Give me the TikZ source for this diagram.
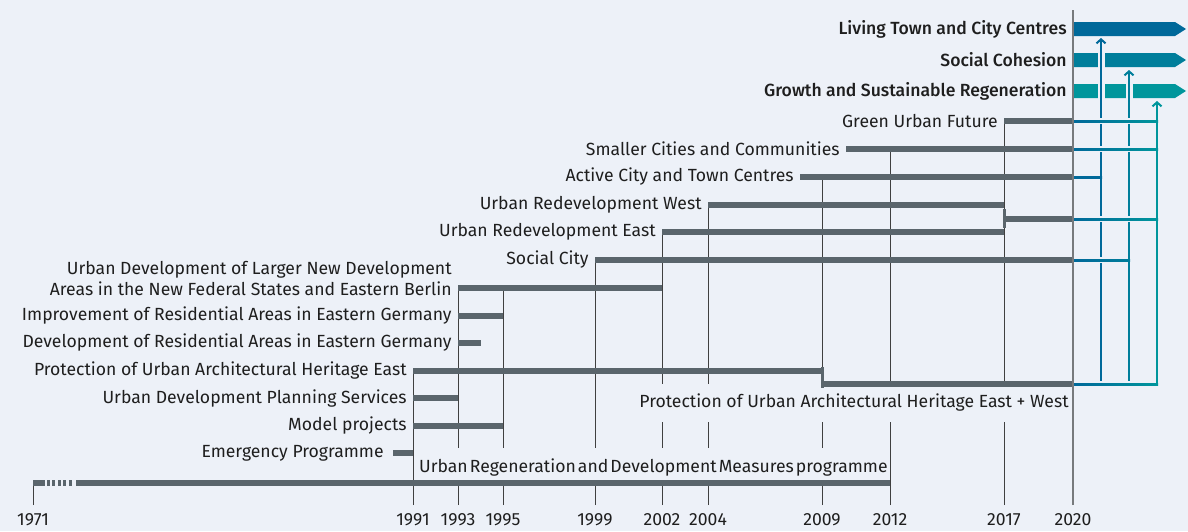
\documentclass[tikz,border=0pt]{standalone}
\usepackage{fontspec}
\setmainfont{Fira Sans}
\newfontfamily\progfont{Fira Sans Medium}
\usetikzlibrary{arrows.meta}

\definecolor{bg}{HTML}{EDF1F8}
\definecolor{bargray}{HTML}{5A656C}
\definecolor{txt}{HTML}{1E1E1E}
\definecolor{axisgray}{HTML}{777A7D}
\definecolor{livblue}{HTML}{00699A}
\definecolor{socblue}{HTML}{007E9B}
\definecolor{growteal}{HTML}{00969C}

\tikzset{
  lbl/.style={anchor=east, inner sep=3pt, text=txt, font=\fontsize{8.8}{10.5}\selectfont},
  year/.style={text=txt, inner sep=1pt, font=\fontsize{8.8}{10.5}\selectfont},
  prog/.style={lbl, font=\fontsize{8.8}{10.5}\selectfont\progfont},
  bar/.style={bargray, line width=3pt},
  joint/.style={bargray, line width=1.5pt},
  yearline/.style={line width=0.5pt, black!75},
  halo/.style={bg, line width=3.5pt},
  link/.style={line width=1pt}
}

\begin{document}
\begin{tikzpicture}[x=0.5pt,y=-0.5pt]
\fill[bg] (0,0) rectangle (1188,531);
\useasboundingbox (0,0) rectangle (1188,531);

% time axis
\foreach \yr/\px in {1971/33,1991/413,1993/458,1995/503,1999/595,2002/662,
                     2004/708,2009/822,2012/890,2017/1004,2020/1073}{
  \coordinate (y\yr) at (\px,505);
  \node[year] at (\px,520) {\yr};
}
\coordinate (y1994) at (481,505);
\coordinate (y2008) at (800,505);
\coordinate (y2010) at (846,505);

\foreach \yr/\top in {1971/483,1991/371,1993/288,1995/288,1999/260,2002/232,
                      2004/205,2009/177,2012/149,2017/121}
  \draw[yearline] (y\yr) -- (y\yr |- 0,\top);

% programme names
\node[lbl] (green) at (1004,121) {Green Urban Future};
\node[lbl] (smaller) at (846,149) {Smaller Cities and Communities};
\node[lbl] (active) at (800,177) {Active City and Town Centres};
\node[lbl] (west) at (708,205) {Urban Redevelopment West};
\node[lbl] (east) at (662,232) {Urban Redevelopment East};
\node[lbl] (social) at (595,260) {Social City};
\node[lbl, align=right] (larger) at (458,278) {Urban Development of Larger New Development\\Areas in the New Federal States and Eastern Berlin};
\coordinate (largerbar) at (458,288);
\node[lbl] (improve) at (458,316) {Improvement of Residential Areas in Eastern Germany};
\node[lbl] (devres) at (458,343) {Development of Residential Areas in Eastern Germany};
\node[lbl] (protect) at (413,371) {Protection of Urban Architectural Heritage East};
\node[lbl] (planning) at (413,398) {Urban Development Planning Services};
\node[lbl] (model) at (413,426) {Model projects};
\node[lbl] (emergency) at (390,453) {Emergency Programme};
\node[lbl, fill=bg, inner xsep=1pt, inner ysep=5pt] (eastwest) at (1071,403) {Protection of Urban Architectural Heritage East + West};
\node[lbl, fill=bg, inner xsep=1pt, inner ysep=5pt] (regen) at (890,467) {\spaceskip=0.12em Urban Regeneration and Development Measures programme};

% running times
\draw[bar] (y2017 |- green) -- (y2020 |- green);
\draw[bar] (y2010 |- smaller) -- (y2020 |- smaller);
\draw[bar] (y2008 |- active) -- (y2020 |- active);
\draw[bar] (y2004 |- west) -- (y2017 |- west);
\draw[bar] (y2002 |- east) -- (y2017 |- east);
\draw[joint] ([yshift=-2pt]y2017 |- west) -- ([yshift=2pt]y2017 |- east);
\draw[bar] (y2017 |- 0,219) -- (y2020 |- 0,219);
\draw[bar] (y1999 |- social) -- (y2020 |- social);
\draw[bar] (y1993 |- largerbar) -- (y2002 |- largerbar);
\draw[bar] (y1993 |- improve) -- (y1995 |- improve);
\draw[bar] (y1993 |- devres) -- (y1994 |- devres);
\draw[bar] (y1991 |- protect) -- (y2009 |- protect);
\draw[joint] ([yshift=2pt]y2009 |- protect) -- ([yshift=-2pt]y2009 |- 0,384);
\draw[bar] (y2009 |- 0,384) -- (y2020 |- 0,384);
\draw[bar] (y1991 |- planning) -- (y1993 |- planning);
\draw[bar] (y1991 |- model) -- (y1995 |- model);
\draw[bar] (emergency.east) ++(3,0) -- (y1991 |- emergency);
\draw[bar] (y1971 |- 0,483) -- (45,483);
\draw[bar, dash pattern=on 1.5pt off 1.2pt] (47,483) -- (74,483);
\draw[bar] (76,483) -- (y2012 |- 0,483);

\draw[axisgray, line width=1pt] (y2020) -- (1073,10);

% new programme structure
\node[prog] (living) at (1073,29) {Living Town and City Centres};
\node[prog] (cohesion) at (1073,60) {Social Cohesion};
\node[prog] (growth) at (1073,91) {Growth and Sustainable Regeneration};
\foreach \y/\c in {29/livblue,60/socblue,91/growteal}
  \fill[\c] (1074,\y-7) -- (1175,\y-7) -- (1186,\y) -- (1175,\y+7) -- (1074,\y+7) -- cycle;

\foreach \x/\top/\c in {1101/38/livblue,1129/70/socblue,1157/101/growteal}{
  \draw[halo] (\x,380) -- (\x,\top+6);
  \draw[link, \c, -{Straight Barb[length=2pt,width=4.5pt]}] (\x,384) -- (\x,\top);
}

\foreach \y/\xe/\ce in {121/1157/growteal,149/1157/growteal,177/1101/livblue,
                        219/1157/growteal,260/1129/socblue,384/1157/growteal}{
  \ifnum\xe>1101 \draw[halo, line width=3pt] (1090,\y) -- (\xe-14,\y); \fi
  \shade[left color=livblue, right color=\ce] (1074,\y-1) rectangle (\xe+1,\y+1);
}
\end{tikzpicture}
\end{document}
